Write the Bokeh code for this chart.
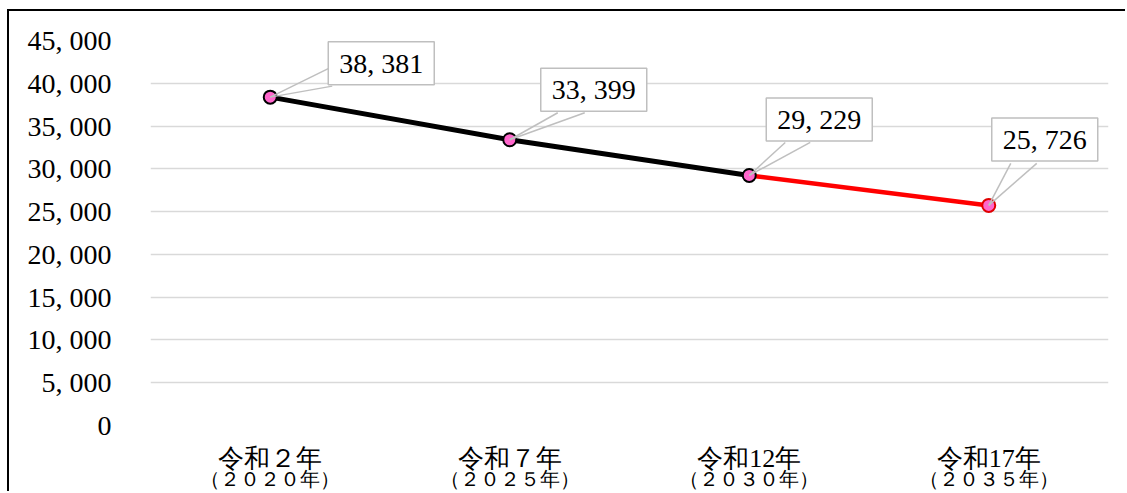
from bokeh.plotting import figure
from bokeh.models import (ColumnDataSource, FactorRange, Range1d, FixedTicker,
                          CategoricalAxis)
from bokeh.transform import dodge
from bokeh.embed import file_html
from bokeh.resources import INLINE
from bokeh.core.properties import value

# ---- data ----
categories = ["令和２年", "令和７年", "令和12年", "令和17年"]
year_labels = ["（２０２０年）", "（２０２５年）", "（２０３０年）", "（２０３５年）"]
values = [38381, 33399, 29229, 25726]
y_ticks = [0, 5000, 10000, 15000, 20000, 25000, 30000, 35000, 40000, 45000]
y_tick_labels = ["0", "5, 000", "10, 000", "15, 000", "20, 000", "25, 000",
                 "30, 000", "35, 000", "40, 000", "45, 000"]
data_labels = [f"{v:,}".replace(",", ", ") for v in values]

# ---- layout / style ----
W, H = 1118, 482
ML, MR, MT, MB = 141, 19, 29, 68
FRAME_W = W - ML - MR
FRAME_H = H - MT - MB
Y_MAX = 45000
Y_PER_PX = Y_MAX / FRAME_H
CAT_PX = FRAME_W / len(categories)
SERIF = "Liberation Serif"

# label box offsets (px, from point) and leader base points (px, from point)
label_dx = [111, 84, 70, 56]
label_dy = [-34, -50, -56, -66]
leader_base = [[(59, 29), (62, 11)],
               [(48, 27), (75, 27)],
               [(36, 33), (61, 33)],
               [(22, 42), (48, 42)]]

p = figure(width=W, height=H, x_range=FactorRange(*categories),
           y_range=Range1d(0, Y_MAX), output_backend="svg",
           toolbar_location=None, min_border_left=ML, min_border_right=MR,
           min_border_top=MT, min_border_bottom=MB, x_axis_location=None)
p.styles = {"margin-left": "7px", "margin-top": "9px",
            "border-top": "2px solid #000", "border-left": "2px solid #000"}
p.outline_line_color = None
p.background_fill_color = "white"
p.border_fill_color = "white"

# y axis
p.yaxis.ticker = FixedTicker(ticks=y_ticks)
p.yaxis.major_label_overrides = dict(zip(y_ticks, y_tick_labels))
p.yaxis.axis_line_color = None
p.yaxis.major_tick_line_color = None
p.yaxis.minor_tick_line_color = None
p.yaxis.major_tick_out = 0
p.yaxis.major_tick_in = 0
p.yaxis.major_label_standoff = 39
p.yaxis.major_label_text_font = SERIF
p.yaxis.major_label_text_font_size = "28px"
p.yaxis.major_label_text_color = "black"

p.ygrid.ticker = FixedTicker(ticks=y_ticks)
p.ygrid.grid_line_color = "#D9D9D9"
p.ygrid.grid_line_width = 1.5
p.xgrid.visible = False

# x axes (two lines)
p.extra_x_ranges = {"years": FactorRange(*year_labels)}
ax1 = CategoricalAxis(axis_line_color=None, major_tick_line_color=None,
                      minor_tick_line_color=None, major_tick_out=0, major_tick_in=0,
                      major_label_standoff=18, major_label_text_font=SERIF,
                      major_label_text_font_size="26px", major_label_text_color="black")
ax2 = CategoricalAxis(x_range_name="years", axis_line_color=None,
                      major_tick_line_color=None, minor_tick_line_color=None,
                      major_tick_out=0, major_tick_in=0, major_label_standoff=-8,
                      major_label_text_font=SERIF, major_label_text_font_size="20px",
                      major_label_text_color="black")
p.add_layout(ax1, "below")
p.add_layout(ax2, "below")

# lines
p.line(categories[:3], values[:3], line_color="black", line_width=5)
p.line(categories[2:], values[2:], line_color="#FF0000", line_width=4.5)

# markers
marker_line = ["black", "black", "black", "#E00000"]
src = ColumnDataSource(dict(x=categories, y=values, lc=marker_line, lab=data_labels,
                            dx=label_dx, dy=label_dy))
p.scatter("x", "y", source=src, size=13, fill_color="#FF66CC",
          line_color="lc", line_width=2)

# leaders
for i, (c, v) in enumerate(zip(categories, values)):
    for (bx, by) in leader_base[i]:
        s = ColumnDataSource(dict(x=[c], y=[v], y1=[v + by * Y_PER_PX]))
        p.segment(x0="x", y0="y", x1=dodge("x", bx / CAT_PX, range=p.x_range),
                  y1="y1", source=s, line_color="#BFBFBF", line_width=1.5)

# label boxes
p.text("x", "y", text="lab", source=src, x_offset="dx", y_offset="dy",
       text_align="center", text_baseline="middle", text_font=value(SERIF),
       text_font_size="28px", text_color="black",
       background_fill_color="white", border_line_color="#BFBFBF",
       border_line_width=1.5,
       padding=dict(left=11, right=11, top=6, bottom=6))

open("out.html", "w").write(file_html(p, INLINE))
